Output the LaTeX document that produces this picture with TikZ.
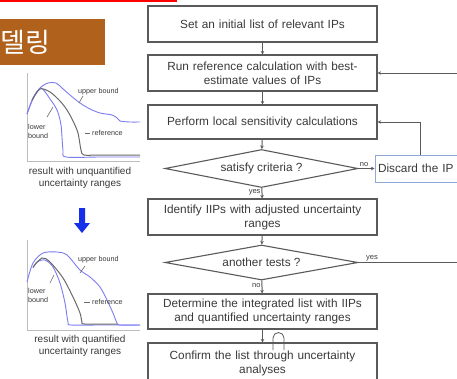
\documentclass[tikz,border=0pt]{standalone}
\usepackage{fontspec}
\setmainfont{Liberation Sans}
\newfontfamily\krfont{Noto Sans CJK KR}
\usetikzlibrary{shapes.geometric,arrows.meta}
\definecolor{boxgray}{HTML}{5A5A5A}
\definecolor{txtgray}{HTML}{3A3A3A}
\definecolor{titlebrown}{HTML}{B0621C}
\definecolor{curveblue}{HTML}{7C7CF0}
\definecolor{refgray}{HTML}{6A6A6A}
\definecolor{axisgray}{HTML}{BDBDBD}
\definecolor{discblue}{HTML}{8FA8D6}
\definecolor{arrowblue}{HTML}{1530E8}
\tikzset{
  flowbox/.style={draw=boxgray, line width=1.1pt, fill=white, minimum width=229pt, text width=226pt, align=center, text=txtgray, font=\fontsize{11.8}{14}\selectfont, inner sep=0pt},
  decision/.style={diamond, draw=boxgray, line width=1.1pt, fill=white, aspect=5, inner sep=0pt, text=txtgray, font=\fontsize{11.8}{13}\selectfont},
  discardbox/.style={draw=discblue, line width=1pt, fill=white, minimum width=100pt, minimum height=27pt, text width=94pt, align=left, text=txtgray, font=\fontsize{11.8}{13}\selectfont, inner sep=0pt},
  flowarrow/.style={draw=boxgray, line width=1pt, -{Stealth[length=3.5pt,width=3.5pt]}},
  flowlabel/.style={text=txtgray, font=\fontsize{7.5}{8}\selectfont, inner sep=1pt},
  axisline/.style={draw=axisgray, line width=1pt},
  bluecurve/.style={draw=curveblue, line width=0.9pt},
  refcurve/.style={draw=refgray, line width=1pt},
  tinylabel/.style={text=txtgray, font=\fontsize{7.2}{9}\selectfont, inner sep=0pt, align=left},
  leader/.style={draw=refgray, line width=0.6pt},
  caption/.style={text=txtgray, font=\fontsize{10}{12}\selectfont, align=center, inner sep=0pt}
}
\begin{document}
\begin{tikzpicture}[x=1pt,y=-1pt]
\useasboundingbox (0,0) rectangle (457,378);
\fill[white] (0,0) rectangle (457,378);

% top red line and title
\draw[red, line width=1.6pt] (0,1) -- (177,1);
\fill[titlebrown] (0,19) rectangle (105,65);
\node[text=white, font=\krfont\fontsize{27}{30}\selectfont, anchor=west, inner sep=0pt] (title) at (0.5,42) {델링};

% ---------- graph 1 ----------
\draw[axisline] (27,73) -- (27,161) -- (140,161);
\draw[bluecurve] plot[smooth, tension=0.5] coordinates {(27,114) (33,99) (40,88) (48,83) (56,83) (62,88) (70,95) (80,103) (90,109) (100,113) (112,115) (117,118) (120,121) (130,122) (140,122)};
\draw[bluecurve] plot[smooth, tension=0.5] coordinates {(27,114) (33,98) (41,88) (50,99) (57,110) (61,125) (63,150) (66,157) (100,157) (140,157)};
\draw[refcurve] plot[smooth, tension=0.5] coordinates {(32,100) (40,89) (50,92) (60,101) (67,110) (73,121) (78,133) (81,150) (84,155) (100,155) (140,155)};
\node[tinylabel, anchor=west] (ub1) at (78,92) {upper bound};
\draw[leader] (83,96) -- (79,103);
\node[tinylabel, anchor=west] (lb1) at (28,131) {lower\\bound};
\draw[leader] (47,117) -- (53,107);
\node[tinylabel, anchor=west] (rf1) at (92,133) {reference};
\draw[leader] (85,133) -- (90,133);
\node[caption] (cap1) at (80,177.5) {result with unquantified\\uncertainty ranges};

% blue arrow
\fill[arrowblue] (79,208) -- (85,208) -- (85,223) -- (90,223) -- (82,233) -- (74,223) -- (79,223) -- cycle;

% ---------- graph 2 ----------
\draw[axisline] (27,240) -- (27,330) -- (140,330);
\draw[bluecurve] plot[smooth, tension=0.5] coordinates {(27,282) (33,263) (43,253) (57,252) (67,255) (80,270) (90,277) (100,287) (107,300) (113,313) (117,323) (120,325) (140,325)};
\draw[bluecurve] plot[smooth, tension=0.5] coordinates {(33,268) (37,262) (45,260) (53,267) (60,283) (65,303) (68,322) (71,325) (100,325) (140,325)};
\draw[refcurve] plot[smooth, tension=0.5] coordinates {(33,267) (42,258) (50,262) (63,278) (73,297) (80,313) (82,322) (85,324) (117,324)};
\node[tinylabel, anchor=west] (ub2) at (78,260) {upper bound};
\draw[leader] (80,273) -- (85,266);
\node[tinylabel, anchor=west] (lb2) at (28,295) {lower\\bound};
\draw[leader] (50,283) -- (54,275);
\node[tinylabel, anchor=west] (rf2) at (92,302) {reference};
\draw[leader] (84,302) -- (90,302);
\node[caption] (cap2) at (80,346) {result with quantified\\uncertainty ranges};

% ---------- flowchart ----------
\node[flowbox, minimum height=36pt] (b1) at (262.5,24) {Set an initial list of relevant IPs};
\node[flowbox, minimum height=36pt] (b2) at (262.5,73) {Run reference calculation with best-\\estimate values of IPs};
\node[flowbox, minimum height=34pt] (b3) at (262.5,122) {Perform local sensitivity calculations};
\node[decision, minimum width=193pt, minimum height=38pt] (d1) at (261.5,168.5) {satisfy criteria ?};
\node[flowbox, minimum height=36pt] (b4) at (262.5,217) {Identify IIPs with adjusted uncertainty\\ranges};
\node[decision, minimum width=193pt, minimum height=35pt] (d2) at (261.5,262.5) {another tests ?};
\node[flowbox, minimum height=35pt] (b5) at (262.5,311.5) {Determine the integrated list with IIPs\\and quantified uncertainty ranges};
\node[flowbox, minimum height=40pt] (b6) at (262.5,363) {Confirm the list through uncertainty\\analyses};
\node[discardbox] (dis) at (425,168.5) {Discard the IP};

\coordinate (loopx) at (420,0);
\coordinate (rightx) at (470,0);

\draw[flowarrow] (b1) -- (b2);
\draw[flowarrow] (b2) -- (b3);
\draw[flowarrow] (b3) -- (d1);
\draw[flowarrow] (d1) -- node[flowlabel, left, pos=0.4] {yes} (b4);
\draw[flowarrow] (b4) -- (d2);
\draw[flowarrow] (d2) -- node[flowlabel, left, pos=0.4] {no} (b5);
\draw[flowarrow] (b5) -- (b6);
\draw[flowarrow] (d1.east) -- node[flowlabel, above, pos=0.35] {no} (dis.west);
\draw[flowarrow] (dis.north -| loopx) |- (b3.east);
\draw[flowarrow] (d2.east) -- node[flowlabel, above, pos=0.12] {yes} (d2.east -| rightx) |- (b2.east);

% small arch mark between the last boxes
\draw[boxgray, line width=0.8pt] (273,350) -- (273,338) arc[start angle=180, end angle=0, radius=5.5pt] -- (284,350);
\end{tikzpicture}
\end{document}
